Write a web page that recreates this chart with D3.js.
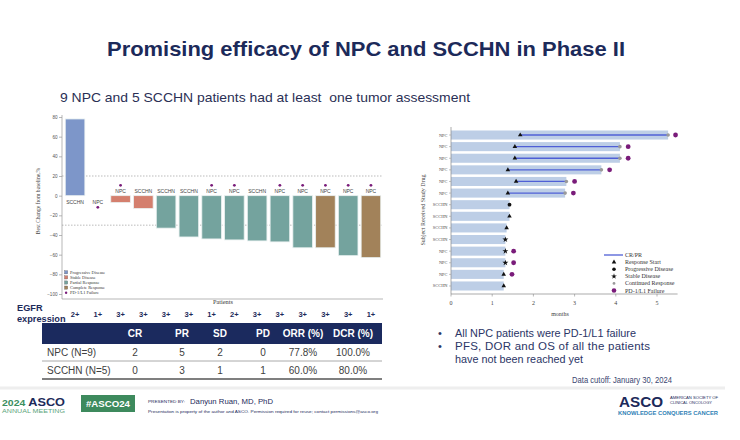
<!DOCTYPE html>
<html><head><meta charset="utf-8">
<script src="https://cdn.jsdelivr.net/npm/d3@7"></script>
<style>body{margin:0;background:#fff}svg{display:block}</style>
</head><body><svg id="c" width="740" height="440"></svg>
<script>
// ---------- Waterfall data ----------
const wfPatients = ["SCCHN","NPC","NPC","SCCHN","SCCHN","SCCHN","NPC","NPC","SCCHN","NPC","NPC","NPC","NPC","NPC"];
const wfChange = [78, 0, -7, -13, -33, -42, -44, -45, -46, -47, -53, -53, -61, -63];
const wfResponse = ["PD","SD","SD","SD","PR","PR","PR","PR","PR","PR","PR","CR","PR","CR"];
const wfFailure = [0,1,1,0,0,0,1,1,0,1,1,1,1,1];
const egfr = ["2+","1+","3+","3+","3+","3+","1+","2+","3+","3+","3+","3+","3+","1+"];
const yTicks = [80,60,40,20,0,-20,-40,-60,-80,-100];
const refLines = [20,-30];
const respKeys = ["PD","SD","PR","CR"];
const respNames = ["Progressive Disease","Stable Disease","Partial Response","Complete Response"];
const respColors = ["#7d96c9","#d47f6e","#74a39e","#a2825a"];

// ---------- Table data ----------
const tableHeader = ["CR","PR","SD","PD","ORR (%)","DCR (%)"];
const tableRowLabels = ["NPC (N=9)","SCCHN (N=5)"];
const tableValues = [["2","5","2","0","77.8%","100.0%"],["0","3","1","1","60.0%","80.0%"]];

// ---------- Swimmer data ----------
const swLabels = ["NPC","NPC","NPC","NPC","NPC","NPC","SCCHN","SCCHN","SCCHN","SCCHN","NPC","NPC","NPC","SCCHN"];
const swDuration = [5.27,4.1,4.1,3.65,2.8,2.77,1.42,1.42,1.35,1.32,1.32,1.32,1.28,1.28];
const swRespStart = [1.68,1.55,1.55,1.38,1.58,1.38,null,1.42,1.35,null,null,null,1.28,1.28];
const swContinued = [5.27,4.1,4.1,3.65,2.8,2.77,null,null,null,null,null,null,null,null];
const swProgressive = [null,null,null,null,null,null,1.42,null,null,null,null,null,null,null];
const swStable = [null,null,null,null,null,null,null,null,null,1.32,1.32,1.32,null,null];
const swFailure = [5.45,4.3,4.3,3.85,3.0,2.97,null,null,null,null,1.52,1.52,1.48,null];
const swTicks = [0,1,2,3,4,5];
const swLegend = ["CR/PR","Response Start","Progressive Disease","Stable Disease","Continued Response","PD-1/L1 Failure"];

const NAVY = "#1c2a5a", PURPLE = "#7a1c7a";
const svg = d3.select("#c");
function fit(sel, w, mode){ sel.attr("textLength", w).attr("lengthAdjust", mode||"spacingAndGlyphs"); return sel; }

// ---------- Titles ----------
fit(svg.append("text").attr("x",366).attr("y",56).attr("text-anchor","middle")
  .attr("font-family","Liberation Sans, Arial, sans-serif").attr("font-weight","bold")
  .attr("font-size",21).attr("fill",NAVY).text("Promising efficacy of NPC and SCCHN in Phase II"),518);
fit(svg.append("text").attr("x",60).attr("y",102).style("white-space","pre")
  .attr("font-family","Liberation Sans, Arial, sans-serif").attr("font-size",13.5)
  .attr("fill","#2a2f55").text("9 NPC and 5 SCCHN patients had at least  one tumor assessment"),410);

// ---------- Waterfall ----------
const x = d3.scaleBand().domain(d3.range(14)).range([63,383]).paddingInner(0.14).paddingOuter(0.1);
const y = d3.scaleLinear().domain([-100,80]).range([294,117]);
const wf = svg.append("g");

wf.selectAll("line.ref").data(refLines).join("line").attr("class","ref")
  .attr("x1",62).attr("x2",383).attr("y1",d=>y(d)).attr("y2",d=>y(d))
  .attr("stroke","#aaa").attr("stroke-width",0.8).attr("stroke-dasharray","1.5,1.5");

const yAx = wf.append("g").attr("transform","translate(62,0)")
  .call(d3.axisLeft(y).tickValues(yTicks).tickSize(3).tickSizeOuter(0).tickPadding(1.5));
yAx.select(".domain").remove();
yAx.selectAll("line").attr("stroke","#888").attr("stroke-width",0.6);
yAx.selectAll("text").attr("font-size",4.6).attr("fill","#555").attr("font-family","Liberation Sans, Arial, sans-serif");
wf.append("line").attr("x1",62).attr("x2",62).attr("y1",115).attr("y2",299).attr("stroke","#999").attr("stroke-width",0.7);
wf.append("line").attr("x1",62).attr("x2",383).attr("y1",299).attr("y2",299).attr("stroke","#999").attr("stroke-width",0.7);

wf.selectAll("rect.bar").data(wfChange).join("rect").attr("class","bar")
  .attr("x",(d,i)=>x(i)).attr("width",x.bandwidth())
  .attr("y",d=>Math.min(y(d),y(0))).attr("height",d=>Math.abs(y(d)-y(0)))
  .attr("fill",(d,i)=>respColors[respKeys.indexOf(wfResponse[i])])
  .attr("stroke","#e9f0f0").attr("stroke-width",0.8);

wf.selectAll("text.pl").data(wfPatients).join("text").attr("class","pl")
  .attr("x",(d,i)=>x(i)+x.bandwidth()/2).attr("y",(d,i)=>wfChange[i]<0?193:203.8)
  .attr("text-anchor","middle").attr("font-size",5).attr("fill","#444")
  .attr("font-family","Liberation Sans, Arial, sans-serif").text(d=>d);
wf.selectAll("circle.pf").data(wfFailure.map((f,i)=>({f,i})).filter(d=>d.f)).join("circle").attr("class","pf")
  .attr("cx",d=>x(d.i)+x.bandwidth()/2).attr("cy",d=>wfChange[d.i]<0?185.3:207.3)
  .attr("r",1.4).attr("fill",PURPLE);

// legend
const lg = wf.append("g");
respNames.forEach((n,i)=>{
  const yy = 272.3 + i*5.1;
  lg.append("rect").attr("x",64.5).attr("y",yy-1.6).attr("width",3.2).attr("height",3.2)
    .attr("fill",respColors[i]).attr("stroke","#555").attr("stroke-width",0.3);
  lg.append("text").attr("x",70).attr("y",yy+1.5).attr("font-size",4.4).attr("fill","#333")
    .attr("font-family","Liberation Serif, Times New Roman, serif").text(n);
});
lg.append("circle").attr("cx",66.1).attr("cy",292.7).attr("r",1.2).attr("fill",PURPLE);
lg.append("text").attr("x",70).attr("y",294.2).attr("font-size",4.4).attr("fill","#333")
  .attr("font-family","Liberation Serif, Times New Roman, serif").text("PD-1/L1 Failure");

wf.append("text").attr("transform","translate(39.5,201) rotate(-90)").attr("text-anchor","middle")
  .attr("font-size",5.6).attr("fill","#444").attr("font-family","Liberation Serif, Times New Roman, serif")
  .text("Best Change from baseline,%");
wf.append("text").attr("x",223).attr("y",304).attr("text-anchor","middle")
  .attr("font-size",6.3).attr("fill","#333").attr("font-family","Liberation Serif, Times New Roman, serif")
  .text("Patients");

// EGFR row
svg.append("text").attr("x",17).attr("y",311).attr("font-size",9.2).attr("font-weight","bold")
  .attr("fill",NAVY).attr("font-family","Liberation Sans, Arial, sans-serif").text("EGFR");
svg.append("text").attr("x",17).attr("y",322).attr("font-size",9.2).attr("font-weight","bold")
  .attr("fill",NAVY).attr("font-family","Liberation Sans, Arial, sans-serif").text("expression");
svg.selectAll("text.eg").data(egfr).join("text").attr("class","eg")
  .attr("x",(d,i)=>x(i)+x.bandwidth()/2).attr("y",316.5).attr("text-anchor","middle")
  .attr("font-size",7.5).attr("font-weight","bold").attr("fill",NAVY)
  .attr("font-family","Liberation Sans, Arial, sans-serif").text(d=>d);

// ---------- Table ----------
const colX = [135,182,220,263,303,353];
svg.append("rect").attr("x",42).attr("y",323).attr("width",340).attr("height",21).attr("fill","#1b2a5e");
svg.selectAll("text.th").data(tableHeader).join("text").attr("class","th")
  .attr("x",(d,i)=>colX[i]).attr("y",337.3).attr("text-anchor","middle")
  .attr("font-size",10).attr("font-weight","bold").attr("fill","#fff")
  .attr("font-family","Liberation Sans, Arial, sans-serif").text(d=>d);
const rowY = [356, 374];
tableRowLabels.forEach((lab,r)=>{
  svg.append("text").attr("x",47).attr("y",rowY[r]).attr("font-size",10).attr("fill","#404040")
    .attr("font-family","Liberation Sans, Arial, sans-serif").text(lab);
  svg.selectAll("text.tv"+r).data(tableValues[r]).join("text").attr("class","tv"+r)
    .attr("x",(d,i)=>colX[i]).attr("y",rowY[r]).attr("text-anchor","middle")
    .attr("font-size",10).attr("fill","#404040")
    .attr("font-family","Liberation Sans, Arial, sans-serif").text(d=>d);
});
svg.append("line").attr("x1",42).attr("x2",382).attr("y1",361).attr("y2",361).attr("stroke","#aaa").attr("stroke-width",1);
svg.append("line").attr("x1",42).attr("x2",382).attr("y1",379).attr("y2",379).attr("stroke","#555").attr("stroke-width",1.5);

// ---------- Swimmer ----------
const xs = d3.scaleLinear().domain([0,5.5]).range([451,677.6]);
const ys = d3.scaleBand().domain(d3.range(14)).range([127,294]).paddingInner(0.22).paddingOuter(0.3);
const sw = svg.append("g");
const cy = i=>ys(i)+ys.bandwidth()/2;
sw.selectAll("rect.sb").data(swDuration).join("rect").attr("class","sb")
  .attr("x",xs(0)).attr("y",(d,i)=>ys(i)).attr("width",d=>xs(d)-xs(0)).attr("height",ys.bandwidth())
  .attr("fill","#bdcee6");
const idx = arr => arr.map((v,i)=>({v,i})).filter(d=>d.v!=null);
sw.selectAll("line.rl").data(idx(swContinued)).join("line").attr("class","rl")
  .attr("x1",d=>xs(swRespStart[d.i])).attr("x2",d=>xs(d.v)).attr("y1",d=>cy(d.i)).attr("y2",d=>cy(d.i))
  .attr("stroke","#4f5fd6").attr("stroke-width",1.3);
sw.selectAll("path.tri").data(idx(swRespStart)).join("path").attr("class","tri")
  .attr("transform",d=>`translate(${xs(d.v)},${cy(d.i)})`).attr("d",d3.symbol(d3.symbolTriangle,9)).attr("fill","#111");
sw.selectAll("circle.pd").data(idx(swProgressive)).join("circle").attr("class","pd")
  .attr("cx",d=>xs(d.v)).attr("cy",d=>cy(d.i)).attr("r",1.9).attr("fill","#111");
sw.selectAll("path.st").data(idx(swStable)).join("path").attr("class","st")
  .attr("transform",d=>`translate(${xs(d.v)},${cy(d.i)})`).attr("d",d3.symbol(d3.symbolStar,11)).attr("fill","#111");
sw.selectAll("circle.cr").data(idx(swContinued)).join("circle").attr("class","cr")
  .attr("cx",d=>xs(d.v)).attr("cy",d=>cy(d.i)).attr("r",1.8).attr("fill","#9a9a9a");
sw.selectAll("circle.fl").data(idx(swFailure)).join("circle").attr("class","fl")
  .attr("cx",d=>xs(d.v)).attr("cy",d=>cy(d.i)).attr("r",2.4).attr("fill",PURPLE);

// axes
sw.append("line").attr("x1",451).attr("x2",451).attr("y1",127).attr("y2",294).attr("stroke","#888").attr("stroke-width",0.7);
sw.append("line").attr("x1",451).attr("x2",677.6).attr("y1",294).attr("y2",294).attr("stroke","#888").attr("stroke-width",0.7);
sw.selectAll("text.yl").data(swLabels).join("text").attr("class","yl")
  .attr("x",447.5).attr("y",(d,i)=>cy(i)+1.5).attr("text-anchor","end")
  .attr("font-size",4.4).attr("fill","#444").attr("font-family","Liberation Serif, Times New Roman, serif").text(d=>d);
sw.selectAll("line.yt").data(swLabels).join("line").attr("class","yt")
  .attr("x1",449).attr("x2",451).attr("y1",(d,i)=>cy(i)).attr("y2",(d,i)=>cy(i)).attr("stroke","#888").attr("stroke-width",0.5);
sw.selectAll("line.xt").data(swTicks).join("line").attr("class","xt")
  .attr("x1",d=>xs(d)).attr("x2",d=>xs(d)).attr("y1",294).attr("y2",296.5).attr("stroke","#888").attr("stroke-width",0.6);
sw.selectAll("text.xl").data(swTicks).join("text").attr("class","xl")
  .attr("x",d=>xs(d)).attr("y",305).attr("text-anchor","middle")
  .attr("font-size",6).attr("fill","#444").attr("font-family","Liberation Serif, Times New Roman, serif").text(d=>d);
sw.append("text").attr("x",560).attr("y",316).attr("text-anchor","middle")
  .attr("font-size",6).attr("fill","#444").attr("font-family","Liberation Serif, Times New Roman, serif").text("months");
sw.append("text").attr("transform","translate(425,210) rotate(-90)").attr("text-anchor","middle")
  .attr("font-size",6).attr("fill","#444").attr("font-family","Liberation Serif, Times New Roman, serif")
  .text("Subject Received Study Drug");

// swimmer legend
const sl = sw.append("g");
swLegend.forEach((n,i)=>{
  const yy = 255 + i*7.1;
  sl.append("text").attr("x",625).attr("y",yy+2).attr("font-size",6).attr("fill","#333")
    .attr("font-family","Liberation Serif, Times New Roman, serif").text(n);
});
sl.append("line").attr("x1",604).attr("x2",623).attr("y1",255).attr("y2",255).attr("stroke","#4f5fd6").attr("stroke-width",1.3);
sl.append("path").attr("transform","translate(614,262.1)").attr("d",d3.symbol(d3.symbolTriangle,9)).attr("fill","#111");
sl.append("circle").attr("cx",614).attr("cy",269.2).attr("r",1.8).attr("fill","#111");
sl.append("path").attr("transform","translate(614,276.3)").attr("d",d3.symbol(d3.symbolStar,10)).attr("fill","#111");
sl.append("circle").attr("cx",614).attr("cy",283.4).attr("r",1.4).attr("fill","#9a9a9a");
sl.append("circle").attr("cx",614).attr("cy",290.5).attr("r",2.3).attr("fill",PURPLE);

// ---------- Bullets ----------
const bulletCol = "#2b3566";
const bl = svg.append("g").attr("font-family","Liberation Sans, Arial, sans-serif").attr("fill",bulletCol);
bl.append("text").attr("x",438).attr("y",336.5).attr("font-size",11).text("•");
bl.append("text").attr("x",438).attr("y",349.5).attr("font-size",11).text("•");
fit(bl.append("text").attr("x",455).attr("y",336.5).attr("font-size",11.5).text("All NPC patients were PD-1/L1 failure"),181);
fit(bl.append("text").attr("x",455).attr("y",349.5).attr("font-size",11.5).text("PFS, DOR and OS of all the patients"),195,"spacing");
fit(bl.append("text").attr("x",455).attr("y",362.5).attr("font-size",11.5).text("have not been reached yet"),128);
fit(svg.append("text").attr("x",572).attr("y",383).attr("font-size",8.5).attr("fill","#3a4670")
  .attr("font-family","Liberation Sans, Arial, sans-serif").text("Data cutoff: January 30, 2024"),100);

// ---------- Footer ----------
svg.append("line").attr("x1",0).attr("x2",725).attr("y1",388).attr("y2",388).attr("stroke","#eeeeee").attr("stroke-width",3);
const ft = svg.append("g").attr("font-family","Liberation Sans, Arial, sans-serif");
const t1 = ft.append("text").attr("x",2).attr("y",405.5).attr("font-size",11.5).attr("font-weight","bold");
t1.append("tspan").attr("fill","#3c8f5f").attr("font-size",9.5).text("2024 ");
t1.append("tspan").attr("fill",NAVY).text("ASCO");
fit(t1,63);
fit(ft.append("text").attr("x",2).attr("y",412.5).attr("font-size",6).attr("fill","#5aa37a").text("ANNUAL MEETING"),63);
ft.append("rect").attr("x",81).attr("y",395).attr("width",54).attr("height",17).attr("fill","#3d8a5d");
fit(ft.append("text").attr("x",108).attr("y",406.8).attr("text-anchor","middle").attr("font-size",9)
  .attr("font-weight","bold").attr("fill","#fff").text("#ASCO24"),44);
fit(ft.append("text").attr("x",148).attr("y",402.5).attr("font-size",4).attr("fill",NAVY).text("PRESENTED BY:"),37);
fit(ft.append("text").attr("x",190).attr("y",403.5).attr("font-size",8).attr("fill",NAVY).text("Danyun Ruan, MD, PhD"),83);
fit(ft.append("text").attr("x",148).attr("y",412.5).attr("font-size",4.2).attr("fill",NAVY)
  .text("Presentation is property of the author and ASCO. Permission required for reuse; contact permissions@asco.org"),230);
fit(ft.append("text").attr("x",619).attr("y",406.5).attr("font-size",15).attr("font-weight","bold").attr("fill",NAVY).text("ASCO"),44);
fit(ft.append("text").attr("x",670).attr("y",399).attr("font-size",3.6).attr("fill",NAVY).text("AMERICAN SOCIETY OF"),48);
fit(ft.append("text").attr("x",670).attr("y",404).attr("font-size",3.6).attr("fill",NAVY).text("CLINICAL ONCOLOGY"),42);
fit(ft.append("text").attr("x",618).attr("y",415).attr("font-size",5.5).attr("font-weight","bold").attr("fill","#2f7fb5").text("KNOWLEDGE CONQUERS CANCER"),100);
</script>
</body></html>
